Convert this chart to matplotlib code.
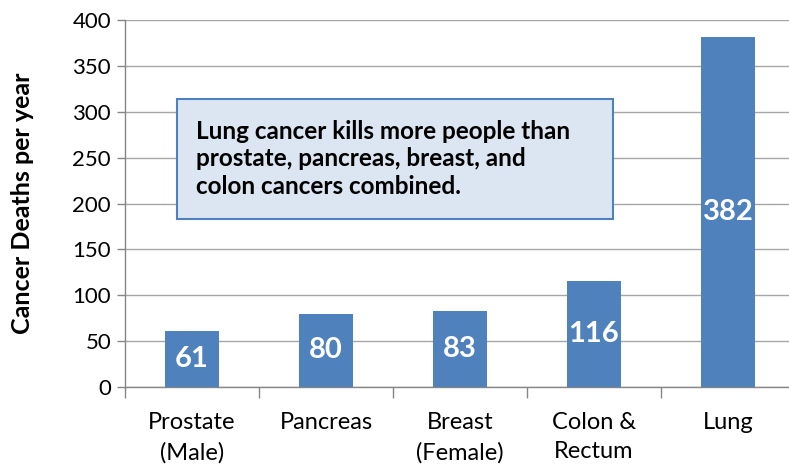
import matplotlib
matplotlib.use("Agg")
import matplotlib.pyplot as plt
from matplotlib.patches import FancyBboxPatch

categories = ["Prostate\n(Male)", "Pancreas", "Breast\n(Female)", "Colon &\nRectum", "Lung"]
deaths = [61, 80, 83, 116, 382]
y_ticks = [0, 50, 100, 150, 200, 250, 300, 350, 400]
annotation = "Lung cancer kills more people than\nprostate, pancreas, breast, and\ncolon cancers combined."
y_label = "Cancer Deaths per year"

plt.rcParams['font.family'] = ['Lato', 'DejaVu Sans']

fig = plt.figure(figsize=(7.89, 4.67), dpi=100)
W, H = 789, 467
ax = fig.add_axes([125 / W, (H - 387) / H, (795 - 125) / W, (387 - 20) / H])

bar_color = "#4F81BD"
x = list(range(len(categories)))
bars = ax.bar(x, deaths, width=0.4, color=bar_color, zorder=3)
for xi, v in zip(x, deaths):
    ax.text(xi, v / 2, str(v), ha="center", va="center", color="white",
            fontsize=21, fontweight="bold", zorder=4)

ax.set_xlim(-0.5, len(categories) - 0.5)
ax.set_ylim(0, 400)
ax.set_yticks(y_ticks)
ax.set_yticklabels([str(t) for t in y_ticks], fontsize=16)
ax.yaxis.grid(True, color="#A6A6A6", linewidth=1, zorder=0)
ax.set_axisbelow(True)

ax.set_xticks([i - 0.5 for i in range(len(categories) + 1)], minor=False)
ax.set_xticklabels([])
ax.set_xticks(x, minor=True)
ax.set_xticklabels(categories, minor=True, fontsize=17, linespacing=1.5)
ax.tick_params(axis="x", which="major", length=8, direction="out", color="#868686", width=1)
ax.tick_params(axis="x", which="minor", length=0, pad=18)
ax.tick_params(axis="y", length=6, direction="out", color="#868686", width=1, pad=4)

for s in ["top", "right"]:
    ax.spines[s].set_visible(False)
for s in ["left", "bottom"]:
    ax.spines[s].set_color("#868686")
    ax.spines[s].set_linewidth(1)

ax.set_ylabel(y_label, fontsize=18, fontweight="bold")
ax.yaxis.set_label_coords((34 - 125) / (795 - 125), 0.5)

# annotation box
box = FancyBboxPatch((177 / W, (H - 219) / H), (613 - 177) / W, (219 - 99) / H,
                     boxstyle="square,pad=0", transform=fig.transFigure,
                     facecolor="#DCE6F2", edgecolor="#4F81BD", linewidth=1.5, zorder=5)
fig.patches.append(box)
fig.text(196 / W, (H - 159) / H, annotation, ha="left", va="center",
         fontsize=17.5, fontweight="bold", linespacing=1.25, zorder=6)

fig.savefig("out.png", dpi=100)
